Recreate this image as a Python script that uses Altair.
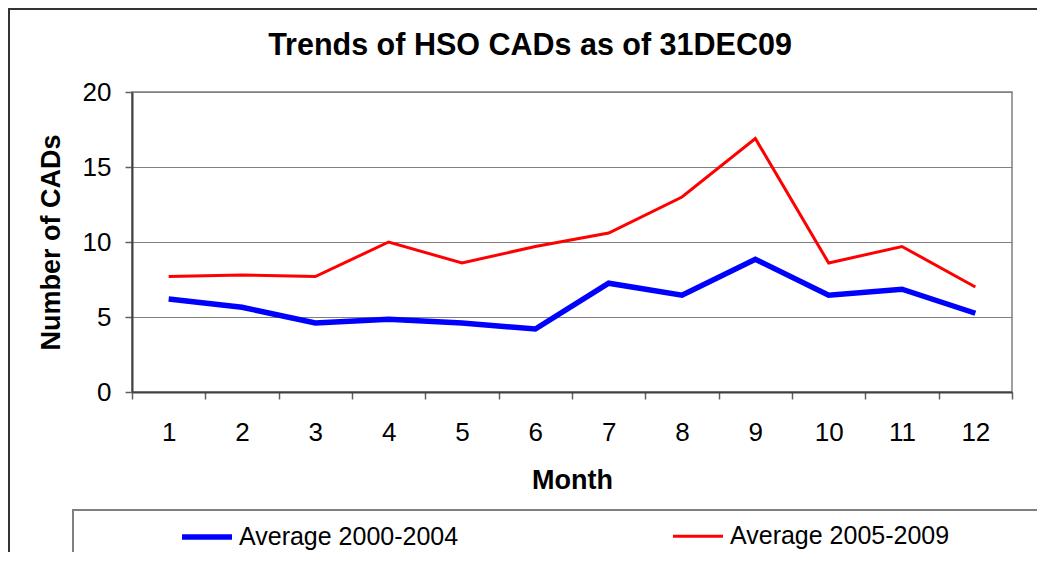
import altair as alt
import pandas as pd

months = list(range(1, 13))
avg_2000_2004 = [6.2, 5.65, 4.6, 4.85, 4.6, 4.2, 7.25, 6.45, 8.85, 6.45, 6.85, 5.25]
avg_2005_2009 = [7.7, 7.8, 7.7, 10.0, 8.6, 9.7, 10.6, 13.0, 16.9, 8.6, 9.7, 7.0]
series_names = ["Average 2000-2004", "Average 2005-2009"]
series_colors = ["#0000FF", "#FF0000"]
series_widths = [5.5, 3]

rows = []
for m, a, b in zip(months, avg_2000_2004, avg_2005_2009):
    rows.append({"month": m, "value": a, "series": series_names[0]})
    rows.append({"month": m, "value": b, "series": series_names[1]})
df = pd.DataFrame(rows)

FONT = "Liberation Sans"

lines = alt.Chart(df).mark_line().encode(
    x=alt.X(
        "month:O",
        bandPosition=0.5,
        scale=alt.Scale(type="band", paddingInner=0, paddingOuter=0),
        axis=alt.Axis(
            title="Month", labelAngle=0, tickBand="extent", grid=False,
            labelFontSize=26, labelPadding=20, tickSize=7,
            titleFontSize=27, titleFontWeight="bold", titlePadding=22,
            domainColor="#404040", domainWidth=2, tickColor="#606060", tickWidth=1.5,
        ),
    ),
    y=alt.Y(
        "value:Q",
        scale=alt.Scale(domain=[0, 20]),
        axis=alt.Axis(
            title="Number of CADs", values=[0, 5, 10, 15, 20], grid=True,
            gridColor="#808080", gridWidth=1,
            labelFontSize=26, labelPadding=14, tickSize=7,
            titleFontSize=27, titleFontWeight="bold", titlePadding=17,
            domainColor="#404040", domainWidth=2, tickColor="#606060", tickWidth=1.5,
        ),
    ),
    color=alt.Color(
        "series:N",
        scale=alt.Scale(domain=series_names, range=series_colors),
        legend=alt.Legend(
            title=None, orient="none", legendX=47, legendY=417,
            direction="horizontal", columns=2, columnPadding=208,
            symbolType="stroke", symbolSize=2500, symbolStrokeWidth=5,
            labelFontSize=25, labelLimit=400, labelOffset=4, padding=0,
        ),
    ),
    strokeWidth=alt.StrokeWidth(
        "series:N",
        scale=alt.Scale(domain=series_names, range=series_widths),
        legend=None,
    ),
)

outer_frame = alt.Chart(pd.DataFrame({"k": [0]})).mark_rect(
    fill=None, stroke="#333333", strokeWidth=2
).encode(
    x=alt.value(-123), x2=alt.value(1200), y=alt.value(-83), y2=alt.value(1200)
)

legend_frame = alt.Chart(pd.DataFrame({"k": [0]})).mark_rect(
    fill=None, stroke="#808080", strokeWidth=2
).encode(
    x=alt.value(-59), x2=alt.value(1200), y=alt.value(418), y2=alt.value(1200)
)

chart = alt.layer(outer_frame, legend_frame, lines).properties(
    width=880,
    height=300,
    autosize=alt.AutoSizeParams(type="none"),
    padding={"left": 124, "top": 84, "right": 25, "bottom": 160},
    title=alt.TitleParams(
        "Trends of HSO CADs as of 31DEC09", fontSize=30.5, fontWeight="bold",
        anchor="middle", dx=-42, offset=0, dy=77, baseline="alphabetic",
        font=FONT, color="black",
    ),
).configure(font=FONT).configure_axis(
    labelFont=FONT, titleFont=FONT, labelColor="black", titleColor="black"
).configure_legend(labelFont=FONT, labelColor="black").configure_view(
    stroke="#808080", strokeWidth=1.5
)

chart.save("out.html", embed_options={"renderer": "svg", "actions": False})
